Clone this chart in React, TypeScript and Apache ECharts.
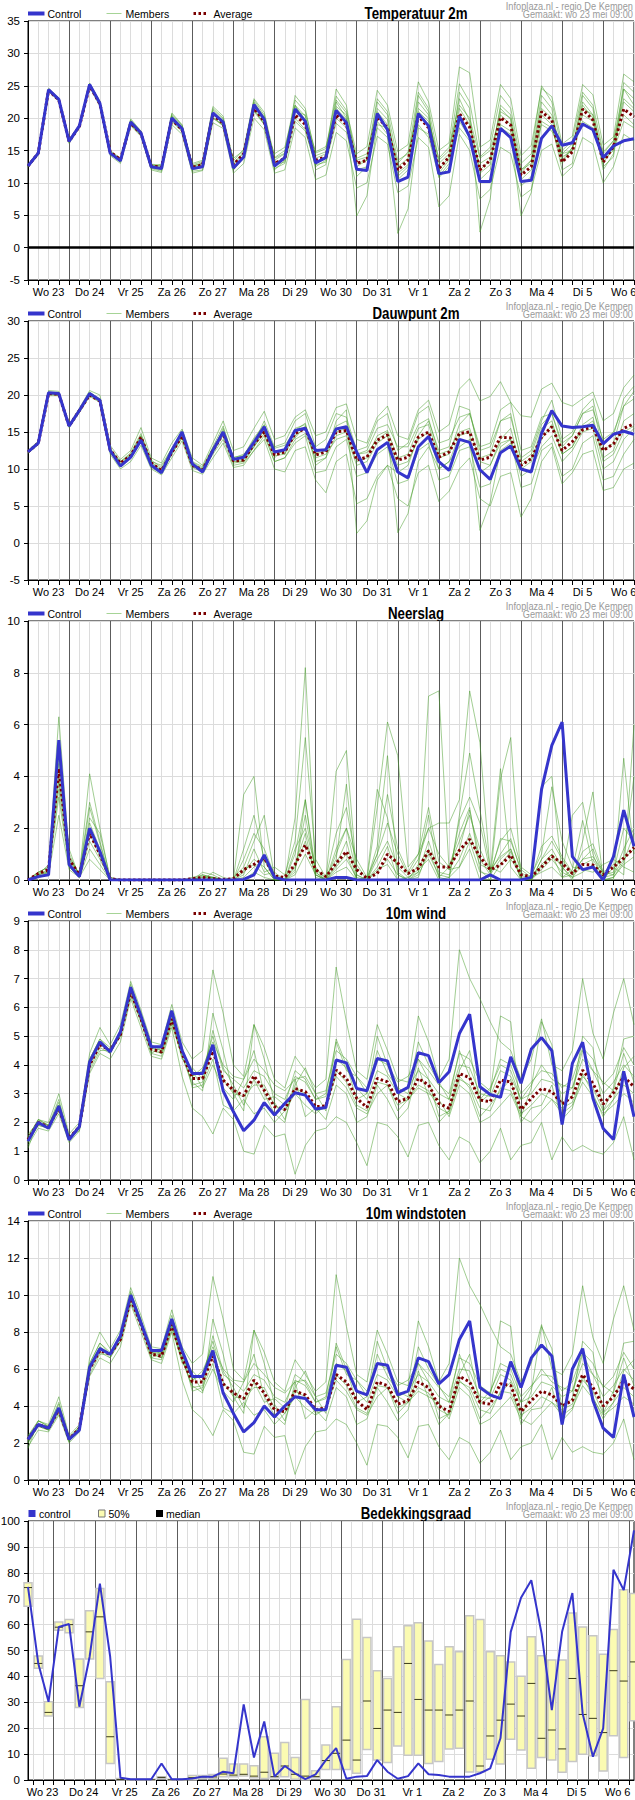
import { useEffect, useRef } from 'react';
import * as echarts from 'echarts';

// ---------- time axis (hours from Wo 23 00:00, 6-hourly) ----------
const HOURS = [0,6,12,18,24,30,36,42,48,54,60,66,72,78,84,90,96,102,108,114,120,126,132,138,144,150,156,162,168,174,180,186,192,198,204,210,216,222,228,234,240,246,252,258,264,270,276,282,288,294,300,306,312,318,324,330,336,342,348,354];
const DAY_LABELS = ['Wo 23','Do 24','Vr 25','Za 26','Zo 27','Ma 28','Di 29','Wo 30','Do 31','Vr 1','Za 2','Zo 3','Ma 4','Di 5','Wo 6'];
const TITLES = ['Temperatuur 2m','Dauwpunt 2m','Neerslag','10m wind','10m windstoten','Bedekkingsgraad'];
const LEGEND_LINES = ['Control','Members','Average'];
const LEGEND_CLOUD = ['control','50%','median'];
const CREDIT_1 = 'Infoplaza.nl - regio De Kempen';
const CREDIT_2 = 'Gemaakt: wo 23 mei 09:00';
const Y_MIN = [-5,-5,0,0,0,0];
const Y_MAX = [35,30,10,9,14,100];
const Y_STEP = [5,5,2,1,2,10];

// ---------- Temperatuur 2m ----------
const TEMP_CONTROL = [12.6,14.6,24.4,22.9,16.4,18.8,25.2,22.3,14.6,13.4,19.4,17.7,12.5,12.2,20.0,18.4,12.2,12.5,20.8,19.4,12.3,14.0,22.1,19.8,12.6,13.9,21.4,19.5,13.1,13.9,21.2,19.3,12.1,11.9,20.7,18.2,10.2,10.9,20.7,18.8,11.4,11.7,20.3,17.1,10.2,10.2,18.4,17.0,10.2,10.4,16.9,18.8,15.8,16.2,19.1,18.2,13.9,15.7,16.5,16.8];
const TEMP_AVERAGE = [12.6,14.6,24.3,22.8,16.4,18.7,25.0,22.2,14.8,13.6,19.2,17.6,12.6,12.4,19.8,18.2,12.4,12.8,20.5,19.2,12.8,14.5,21.5,19.5,13.0,13.8,20.5,19.0,13.5,14.0,20.5,19.0,13.0,13.5,20.2,18.5,12.0,13.5,20.3,18.5,12.2,14.0,20.7,18.6,12.0,13.5,20.1,18.9,11.2,12.5,21.0,19.7,13.2,14.8,21.4,19.7,13.2,15.6,21.4,20.2];
const TEMP_MEMBERS = [
  [12.8,14.8,24.6,23.1,16.6,19.0,25.4,22.6,15.0,13.8,19.9,18.0,12.9,12.7,20.6,18.9,12.8,13.3,21.8,20.3,13.4,15.2,23.0,20.9,13.9,15.0,22.8,21.0,14.6,15.3,23.4,21.2,14.5,15.6,24.3,22.0,14.8,15.9,25.6,22.5,15.0,16.2,27.9,27.0,15.5,16.6,25.2,23.0,14.2,15.8,24.6,23.3,16.0,17.2,25.2,23.6,15.8,17.1,26.8,25.6],
  [12.4,14.3,24.1,22.6,16.1,18.5,24.8,21.8,14.2,13.0,18.8,17.2,12.0,11.6,19.0,17.5,11.5,11.9,19.3,18.4,11.5,13.0,20.0,18.2,11.5,12.0,18.5,17.0,10.5,11.2,17.8,16.5,9.2,10.0,17.2,16.0,8.5,9.5,17.0,15.5,6.3,8.0,17.5,15.0,7.5,9.0,15.5,14.5,7.8,9.0,15.0,16.0,11.0,12.5,17.0,16.0,10.0,12.5,17.5,16.5],
  [12.6,14.5,24.3,22.8,16.3,18.7,25.1,22.2,14.7,13.5,19.5,17.8,12.7,12.5,20.3,18.4,12.3,12.6,20.5,19.5,12.8,14.6,22.5,20.2,12.0,13.5,21.0,20.5,12.0,12.8,22.5,20.0,4.9,8.0,19.0,18.5,11.5,12.8,21.5,20.0,13.0,14.5,23.0,19.5,11.5,12.8,22.0,20.5,12.0,13.0,22.5,20.5,14.5,15.0,23.5,21.5,12.5,14.0,24.5,22.0],
  [12.5,14.6,24.5,22.9,16.5,18.9,25.0,22.4,14.5,13.3,19.3,17.5,12.3,12.0,19.6,18.0,12.0,12.4,20.0,19.0,12.0,13.8,21.2,19.2,13.0,14.0,20.0,18.2,12.5,13.5,20.0,18.5,13.0,13.5,19.5,17.5,2.2,6.0,18.5,17.5,12.0,14.0,19.5,17.0,13.0,14.0,18.5,17.5,4.9,8.5,19.5,18.5,13.5,15.5,20.5,19.5,14.0,16.0,20.5,19.0],
  [12.7,14.7,24.2,22.7,16.4,18.6,25.3,22.1,14.9,13.6,19.0,17.4,12.5,12.9,19.9,18.5,13.0,13.5,20.2,18.8,13.8,15.0,21.0,19.0,14.5,15.5,21.8,19.8,14.8,15.6,21.5,19.8,13.8,14.5,21.0,19.0,13.0,14.8,21.0,19.5,13.8,15.5,22.0,20.0,13.8,15.0,20.5,19.0,11.5,13.5,23.5,21.5,13.0,15.5,22.5,20.5,14.5,16.5,23.0,21.5],
  [12.5,14.4,24.4,22.8,16.2,18.8,24.9,22.3,14.4,13.5,19.6,17.9,12.6,12.2,20.8,19.0,12.5,12.8,21.3,19.8,12.0,14.2,22.3,20.0,12.8,13.2,23.5,21.5,13.8,14.5,24.5,22.0,12.5,13.5,22.5,20.5,10.5,12.0,23.5,21.0,10.8,12.5,24.0,21.5,2.4,7.5,21.0,20.0,9.5,11.0,20.5,19.0,12.0,13.0,21.5,20.5,12.0,14.5,25.5,24.0],
  [12.6,14.6,24.5,22.9,16.4,18.8,25.2,22.2,14.6,13.4,19.3,17.6,12.4,12.3,20.2,18.6,12.6,13.0,21.0,19.2,12.6,13.8,21.8,19.6,13.5,14.5,22.0,20.3,13.2,14.0,21.8,20.5,11.0,12.5,21.5,19.8,12.5,13.8,22.5,20.5,11.5,13.5,21.5,19.0,12.0,13.5,21.5,19.8,10.5,12.0,21.5,20.0,14.0,15.0,22.0,20.0,13.0,15.5,22.5,21.0],
  [12.5,14.5,24.2,22.7,16.3,18.7,25.0,22.1,14.5,13.2,19.0,17.3,12.2,11.8,19.5,17.9,11.8,12.0,20.0,18.8,12.2,14.0,21.5,19.0,12.2,13.0,19.5,18.0,12.8,13.2,19.2,17.8,12.0,12.5,18.5,17.0,11.0,12.5,19.0,17.0,11.0,13.0,18.5,16.5,10.5,12.0,19.0,18.0,12.0,13.5,19.0,18.0,14.5,16.0,19.5,18.5,13.5,15.0,19.5,18.5],
  [12.7,14.7,24.4,23.0,16.5,18.9,25.3,22.5,14.8,13.7,19.7,17.9,12.8,12.6,20.4,18.8,12.6,13.1,21.5,20.0,13.0,14.8,22.8,20.5,13.8,14.6,22.0,19.5,14.2,14.8,22.8,20.8,13.5,14.0,23.0,21.0,13.5,14.5,24.0,21.5,13.5,15.0,25.3,22.5,14.0,15.5,23.5,21.5,13.0,14.5,25.0,22.5,15.0,16.5,24.0,22.0,14.8,16.5,24.5,23.0],
];

// ---------- Dauwpunt 2m ----------
const DEW_CONTROL = [12.3,13.5,20.3,20.2,15.8,17.9,20.2,19.3,12.5,10.4,11.6,13.9,10.5,9.5,12.5,15.0,10.7,9.6,12.5,15.0,11.3,11.6,13.6,15.7,12.3,12.6,15.2,15.5,12.5,12.6,15.4,15.7,12.3,9.5,12.6,13.6,9.6,8.8,13.0,14.4,11.0,9.8,14.0,13.6,9.9,8.6,12.2,13.1,10.0,9.6,14.8,17.9,15.8,15.6,15.7,15.9,13.4,14.7,15.1,14.7];
const DEW_AVERAGE = [12.3,13.5,20.2,20.1,15.8,17.9,20.0,19.2,12.6,10.8,11.8,14.3,10.8,9.8,12.2,14.5,10.5,9.9,12.5,14.8,11.1,11.2,13.4,15.0,11.9,12.3,14.8,15.5,11.9,12.3,15.0,15.2,11.2,11.6,13.9,14.6,11.2,11.6,14.3,15.0,11.6,12.3,14.8,15.0,11.2,11.6,14.3,14.2,10.5,11.4,14.3,15.7,12.5,13.7,15.3,15.7,12.5,13.4,15.5,16.1];
const DEW_MEMBERS = [
  [12.5,13.8,20.6,20.5,16.0,18.2,20.6,20.0,13.2,11.3,12.5,15.6,11.5,10.8,13.5,15.4,11.5,10.5,13.5,16.5,12.5,13.0,15.5,17.8,14.0,14.5,17.0,18.0,14.5,15.0,18.3,18.8,14.0,13.5,17.0,18.5,14.5,14.0,18.0,19.3,15.0,16.0,20.8,22.2,19.2,19.8,21.8,19.0,17.2,17.0,20.8,21.6,19.0,18.5,19.5,20.4,16.5,17.5,21.0,22.7],
  [12.1,13.3,19.9,19.9,15.6,17.6,19.8,19.0,12.0,10.0,11.0,13.2,10.0,9.2,11.5,13.8,9.8,9.3,11.5,13.5,10.2,10.5,12.5,14.0,10.0,9.6,12.5,13.0,8.5,6.8,11.0,12.0,5.3,6.0,9.0,10.5,6.0,5.0,9.5,10.5,5.6,7.0,10.0,11.5,6.0,5.0,9.0,9.5,3.5,6.0,11.0,13.0,8.0,9.5,12.0,12.5,7.1,7.5,10.0,10.8],
  [12.3,13.6,20.4,20.3,15.9,17.8,20.4,19.4,12.8,11.0,12.0,14.5,11.2,10.2,12.8,14.8,10.8,9.8,12.3,15.5,11.6,11.8,14.2,16.0,12.5,12.0,15.5,16.0,10.5,11.5,16.5,18.0,1.3,3.0,8.5,10.5,9.5,10.5,14.5,16.5,12.5,13.0,18.5,18.0,11.5,12.0,16.5,17.0,11.5,12.5,16.5,19.3,14.0,15.0,18.0,19.5,13.5,14.5,19.5,21.2],
  [12.2,13.4,20.1,20.0,15.7,17.9,20.1,19.1,12.4,10.6,11.5,14.0,10.5,9.6,12.0,14.2,10.3,10.0,12.8,14.8,11.0,11.0,13.0,15.3,11.5,12.8,14.2,15.8,12.0,12.5,15.0,15.5,12.0,12.2,14.0,15.0,1.4,4.0,11.0,13.0,10.0,11.0,14.5,15.0,1.7,5.5,12.5,13.5,10.5,11.5,14.0,16.0,12.0,13.0,15.5,16.5,11.0,12.0,15.0,15.8],
  [12.4,13.5,20.3,20.2,15.8,18.0,20.3,19.5,12.6,11.0,12.2,14.8,11.0,10.5,12.8,15.0,11.0,10.3,13.0,15.8,11.5,12.0,13.5,16.5,13.0,13.5,16.5,17.5,13.0,14.0,17.5,17.0,12.5,13.0,16.5,17.5,12.5,13.5,17.5,18.5,13.5,14.0,17.0,17.5,13.0,13.5,18.0,19.0,12.5,13.0,17.0,17.5,13.5,14.5,17.5,18.0,14.0,15.0,18.5,19.5],
  [12.2,13.4,20.2,20.0,15.7,17.7,19.9,19.2,12.3,10.5,11.4,13.8,10.2,9.4,12.0,14.3,10.2,9.6,12.0,14.0,10.5,10.8,12.5,14.5,11.0,11.5,13.5,14.5,9.5,9.8,13.0,14.0,9.0,9.5,12.0,13.0,8.0,8.5,12.5,13.5,8.5,9.0,12.5,13.0,7.5,8.0,13.0,14.0,7.5,8.0,12.5,13.5,9.0,10.0,13.5,14.5,8.5,9.0,12.0,14.0],
  [12.3,13.5,20.3,20.2,15.8,17.9,20.2,19.2,12.5,10.6,11.8,14.2,10.8,9.8,12.4,14.6,10.6,10.0,12.6,15.0,11.0,11.3,13.2,15.3,11.8,12.0,14.5,15.5,12.2,12.8,15.8,16.5,12.0,12.5,15.5,16.0,13.0,13.0,16.0,16.8,12.0,12.5,15.0,15.5,11.0,10.5,14.0,15.5,10.0,11.0,15.5,16.5,12.0,13.0,16.0,17.0,11.5,12.5,16.5,17.5],
  [12.4,13.6,20.2,20.1,15.9,17.8,20.0,19.3,12.7,10.9,11.9,14.5,10.9,10.0,12.5,15.2,10.9,10.1,12.8,15.2,11.3,11.8,14.0,15.9,12.8,13.2,15.2,16.2,11.0,11.5,14.5,15.0,11.0,11.5,14.5,15.2,11.5,12.0,15.5,16.0,11.5,12.0,16.0,17.5,12.5,13.0,16.5,17.5,11.0,12.0,16.0,17.5,13.0,14.5,17.5,18.5,12.5,13.5,18.5,20.5],
  [12.2,13.5,20.2,20.2,15.8,17.9,20.1,19.2,12.5,10.7,11.7,14.0,10.6,9.7,12.2,14.4,10.4,9.8,12.2,14.5,10.8,11.0,13.0,14.8,11.0,11.5,14.0,14.8,11.5,12.0,14.0,14.5,10.5,11.0,13.5,14.5,10.5,11.0,14.0,15.0,10.0,11.0,13.0,14.0,9.5,10.5,13.5,14.0,9.0,10.0,13.0,14.5,11.0,12.5,15.0,15.5,10.0,11.0,14.0,15.5],
];

// ---------- Neerslag ----------
const RAIN_CONTROL = [0,0.13,0.2,5.4,0.6,0.13,2.0,1.1,0,0,0,0,0,0,0,0,0,0,0,0,0,0.02,0.2,0.97,0.1,0,0,0,0,0,0.1,0.1,0,0,0,0,0,0,0,0,0,0,0,0,0,0.2,0,0,0,0.1,3.5,5.2,6.1,0.9,0.4,0.5,0,0.9,2.7,1.3];
const RAIN_AVERAGE = [0,0.25,0.4,4.3,0.8,0.2,1.8,1.0,0.05,0,0,0,0,0,0,0,0.05,0.1,0.05,0.02,0.05,0.4,0.6,0.85,0.15,0.1,0.6,1.35,0.4,0.13,0.65,1.1,0.4,0.06,0.25,1.0,0.65,0.25,0.45,1.13,0.5,0.5,1.15,1.57,0.9,0.4,0.58,0.96,0.2,0.13,0.5,0.92,0.65,0.25,0.6,0.58,0.2,0.5,0.84,1.25];
const RAIN_MEMBERS = [
  [0,0.3,0.5,6.3,1.0,0.2,4.1,2.0,0,0,0,0,0,0,0,0,0,0.2,0.1,0,0,3.3,4.0,0.5,0,0,2.4,8.2,0.3,0,4.2,5.0,0.2,0,0.5,1.3,0,0,0.3,7.1,7.3,0.4,0.5,1.2,0,0,3.9,5.5,0,0,0.8,1.2,0.5,0,1.5,3.4,0,0,4.7,1.0],
  [0,0.1,0.3,3.2,0.5,0.1,1.5,0.8,0,0,0,0,0,0,0,0,0,0,0.3,0.1,0,0.2,1.2,0.3,0.5,0.2,1.5,5.5,0.8,0.1,0.8,3.7,0,0,2.8,6.1,4.8,0.5,1.0,2.0,2.2,2.2,3.1,7.3,5.3,0.3,1.5,2.0,0.5,0.2,1.0,3.6,1.5,0.5,0.4,0.3,0.6,0.8,0.5,0.3],
  [0,0.2,0.4,4.5,0.7,0.3,3.0,1.5,0,0,0,0,0,0,0,0,0,0.3,0.2,0,0.1,0.5,1.5,2.5,0.1,0,0.3,3.1,0.2,0,0.6,1.5,0,0.1,3.5,2.4,0.2,0,0.6,2.5,0.1,0,2.5,4.9,2.7,0.5,0.3,0.8,0.2,0,3.6,4.0,0.2,2.5,3.0,1.0,0,0.5,0.2,6.0],
  [0,0.1,0.2,2.5,0.4,0.1,0.8,0.4,0,0,0,0,0,0,0,0,0,0,0,0,0,0,0.3,0.1,0,0,0.6,1.8,0.1,0,0.3,0.5,0,0,0.4,0.6,0,0.1,0.4,0.8,0,0.1,2.3,3.2,2.2,0.3,4.3,0.5,0,0.1,0.3,0.5,0.1,0.4,2.3,0.6,0,0.1,0.7,1.8],
  [0,0.2,0.6,3.8,0.9,0.2,2.4,1.8,0.1,0,0,0,0,0,0,0,0,0.1,0.05,0,0,1.2,2.5,0.8,0,0,1.0,3.1,0.4,0.1,1.8,2.8,0.6,0,1.0,3.3,1.2,0.3,1.0,2.8,0.7,0.4,1.2,2.7,0.8,0.2,1.6,1.5,0.4,0.1,1.3,1.7,0.9,0.3,0.8,1.2,0.2,0.3,2.0,1.5],
  [0,0.3,0.3,4.8,1.2,0.1,1.2,0.6,0,0,0,0,0,0,0,0,0.1,0.2,0.1,0,0,0.4,0.6,0.2,0.3,0,0.2,1.0,0.2,0,0.4,0.8,0.1,0,1.3,4.8,0.3,0,0.1,1.2,0.1,0.5,1.8,2.8,0.4,0,0.6,1.1,0,0.2,0.5,1.0,0.1,0.2,1.1,1.4,0.3,0.6,0.9,4.0],
  [0,0.2,0.3,4.0,0.9,0.2,2.2,1.2,0,0,0,0,0,0,0,0,0,0.15,0.1,0,0,0.8,1.8,1.2,0.2,0,1.2,2.0,0.5,0,1.2,2.0,0.8,0.1,1.0,2.2,1.0,0.2,0.8,2.0,1.0,0.5,1.5,2.5,1.2,0.3,1.0,1.6,0.3,0,0.8,1.5,0.8,0.2,0.8,0.9,0.3,0.2,1.2,2.0],
  [0,0.3,0.5,5.0,0.8,0.2,1.8,0.9,0.1,0,0,0,0,0,0,0,0,0.1,0.1,0,0,0.3,0.8,0.5,0,0,0.5,1.5,0.2,0,0.5,1.0,0,0,0.8,1.5,0.5,0.1,0.3,1.5,0.3,0.2,0.8,1.8,0.6,0.4,0.9,1.2,0.1,0,0.6,1.0,0.5,0.1,0.6,0.8,0.1,0.2,0.8,1.2],
  [0,0.2,0.3,3.5,0.6,0.2,2.8,1.4,0,0,0,0,0,0,0,0,0,0,0.1,0,0,0.1,0.5,0.8,0.1,0,0.4,2.5,0.3,0,1.0,2.0,0.2,0,0.3,0.8,0.2,0,0.2,1.0,0.2,0.1,0.5,1.5,0.3,0.2,0.8,1.2,0,0,0.4,0.8,0.3,0.1,0.3,0.6,0,0.1,0.6,0.9],
];

// ---------- 10m wind ----------
const WIND_CONTROL = [1.35,2.0,1.8,2.57,1.4,1.85,4.1,4.8,4.45,5.15,6.7,5.7,4.63,4.63,5.88,4.5,3.7,3.7,4.7,3.1,2.37,1.71,2.08,2.69,2.26,2.66,3.03,2.95,2.47,2.52,4.17,4.07,3.18,3.1,4.22,4.14,3.03,3.22,4.42,4.32,3.38,3.76,5.09,5.76,3.24,2.97,2.87,4.28,3.36,4.55,4.95,4.49,1.93,4.05,4.79,2.84,1.79,1.41,3.78,2.2];
const WIND_AVERAGE = [1.4,2.0,1.85,2.5,1.45,1.85,4.0,4.7,4.5,5.05,6.55,5.6,4.55,4.45,5.6,4.4,3.53,3.53,4.48,3.47,3.12,2.93,3.62,3.12,2.55,2.45,3.18,3.07,2.55,2.57,3.82,3.53,2.84,2.52,3.53,3.41,2.72,2.84,3.53,3.3,2.66,2.49,3.7,3.55,2.78,2.72,3.47,3.41,2.45,2.84,3.18,3.07,2.64,2.89,3.82,3.36,2.64,3.03,3.59,3.24];
const WIND_MEMBERS = [
  [1.5,2.1,2.0,3.0,1.6,2.0,4.4,5.3,4.7,5.4,6.9,5.9,4.8,4.7,6.1,4.8,4.2,4.5,7.3,5.8,4.0,3.6,5.4,4.6,3.5,3.2,4.3,3.8,3.2,3.5,7.4,5.5,3.8,3.5,5.4,4.5,3.5,3.4,5.7,4.8,3.5,4.2,8.0,7.0,6.3,5.5,4.8,4.5,3.5,4.2,5.6,4.0,3.8,4.5,7.0,5.1,4.2,5.8,7.0,5.4],
  [1.2,1.8,1.7,2.3,1.3,1.7,3.7,4.4,4.2,4.8,6.3,5.3,4.3,4.2,5.3,3.6,2.5,2.2,1.6,2.5,2.1,1.0,0.9,1.9,1.5,1.6,0.2,1.2,1.7,1.8,2.2,2.0,1.3,0.5,2.0,1.9,1.5,0.8,1.9,2.0,1.2,0.7,1.5,1.3,0.6,1.0,1.8,0.7,1.2,1.3,2.0,0.7,1.5,1.0,1.2,1.0,0.9,1.3,2.2,0.7],
  [1.3,2.0,1.9,2.8,1.5,1.9,4.2,4.9,4.5,5.1,6.8,5.7,4.6,4.6,5.7,4.3,3.4,3.1,5.8,4.5,3.0,2.4,5.4,4.2,2.7,2.1,3.3,3.9,3.0,2.4,4.9,4.0,2.8,3.0,5.0,4.0,3.0,2.8,4.2,3.5,2.2,2.4,3.8,4.5,2.7,3.0,5.7,5.5,2.2,3.2,5.5,4.7,2.6,2.9,5.0,4.6,2.4,3.2,4.9,5.0],
  [1.4,1.9,1.8,2.6,1.4,1.8,3.9,4.6,4.4,5.0,6.5,5.5,4.5,4.4,5.5,4.4,3.8,3.2,4.0,3.2,2.8,3.5,4.5,3.0,2.3,2.0,3.5,2.2,2.5,2.1,3.3,3.0,2.0,2.2,3.3,2.8,2.1,2.5,3.9,2.9,2.0,2.4,3.6,3.2,2.2,2.6,3.1,3.5,2.0,2.5,2.6,3.3,2.1,2.5,3.7,3.0,2.2,2.8,3.9,4.3],
  [1.1,2.1,1.9,2.7,1.5,1.7,4.0,4.7,4.5,5.2,6.6,5.6,4.7,4.5,5.6,4.2,3.9,3.5,5.2,3.9,3.3,2.6,3.5,2.8,2.9,2.6,3.8,3.5,2.8,3.0,4.8,3.8,3.6,3.0,4.5,3.7,3.2,3.0,4.8,4.0,3.4,2.8,4.5,3.6,2.8,3.2,4.0,3.8,2.8,3.3,4.0,3.5,3.3,3.2,4.5,3.8,3.4,3.1,4.4,3.4],
  [1.6,2.0,1.8,2.4,1.4,1.9,4.1,4.8,4.4,5.1,6.7,5.8,4.4,4.6,5.9,4.6,3.2,3.3,4.2,2.6,2.4,2.8,2.3,2.5,2.0,2.4,3.0,2.6,2.3,2.6,3.6,3.2,2.5,2.3,3.0,3.3,2.4,2.8,3.2,3.0,2.8,2.2,3.3,3.0,2.0,2.2,2.6,3.0,2.2,2.0,2.4,2.8,2.3,2.6,3.4,2.9,2.3,2.6,3.0,2.7],
  [1.4,2.0,1.8,2.5,1.4,1.9,4.0,4.8,4.5,5.0,6.6,5.7,4.6,4.5,5.8,4.5,3.6,3.8,5.0,3.8,3.5,3.2,3.8,3.6,3.0,2.8,3.6,3.4,2.8,2.9,4.2,3.9,3.2,2.8,3.8,3.6,3.0,3.2,3.8,3.5,3.0,2.8,4.0,3.9,3.0,2.9,3.8,3.6,2.8,3.0,3.5,3.4,3.0,3.2,4.2,3.8,3.0,3.4,4.0,3.6],
  [1.3,1.9,1.8,2.5,1.5,1.8,3.8,4.5,4.5,5.0,6.4,5.5,4.4,4.3,5.4,4.3,3.3,3.4,4.6,3.5,3.0,2.9,3.3,3.3,2.6,2.4,3.2,3.0,2.4,2.5,3.8,3.4,2.6,2.4,3.4,3.3,2.6,2.8,3.3,3.1,2.5,2.3,3.5,3.3,2.5,2.4,3.2,3.1,2.3,2.6,3.0,2.8,2.5,2.7,3.6,3.2,2.4,2.8,3.3,3.0],
  [1.5,2.1,1.9,2.6,1.4,1.9,4.2,4.9,4.6,5.1,6.6,5.6,4.6,4.4,5.6,4.6,3.6,3.9,4.8,4.0,3.6,3.5,4.2,3.8,3.3,3.1,3.5,3.6,3.0,3.1,4.5,4.2,3.6,3.2,4.2,4.0,3.4,3.6,4.2,3.8,3.3,3.0,4.4,4.2,3.4,3.1,4.2,4.0,3.0,3.4,3.8,3.7,3.2,3.5,4.6,4.2,3.3,3.7,4.6,4.0],
];

// ---------- 10m windstoten ----------
const GUST_CONTROL = [2.2,3.0,2.8,3.9,2.2,2.7,6.1,7.1,6.8,7.8,10.0,8.5,7.0,7.0,8.7,7.0,5.6,5.6,7.0,4.7,3.6,2.6,3.1,4.0,3.4,4.0,4.5,4.4,3.8,3.8,6.2,6.1,4.8,4.6,6.3,6.2,4.6,4.8,6.6,6.4,5.2,5.7,7.6,8.6,5.0,4.6,4.4,6.4,5.0,6.6,7.3,6.7,3.0,6.0,7.1,4.3,2.8,2.3,5.7,3.4];
const GUST_AVERAGE = [2.2,3.0,2.8,3.8,2.2,2.8,6.0,7.0,6.8,7.6,9.8,8.4,6.8,6.7,8.4,6.6,5.3,5.3,6.7,5.2,4.7,4.4,5.4,4.7,3.8,3.7,4.8,4.6,3.8,3.9,5.7,5.3,4.3,3.8,5.3,5.1,4.1,4.3,5.3,5.0,4.0,3.7,5.6,5.3,4.2,4.1,5.2,5.1,3.7,4.3,4.8,4.6,4.0,4.3,5.7,5.0,4.0,4.5,5.4,4.9];
const GUST_MEMBERS = [
  [2.4,3.2,3.0,4.5,2.4,3.0,6.6,8.0,7.1,8.1,10.4,8.9,7.2,7.1,9.2,7.2,6.3,6.8,11.0,8.7,6.0,5.4,8.1,6.9,5.3,4.8,6.5,5.7,4.8,5.3,11.1,8.3,5.7,5.3,8.1,6.8,5.3,5.1,8.6,7.2,5.3,6.3,12.0,10.5,9.5,8.3,7.2,6.8,5.3,6.3,8.4,6.0,5.7,6.8,10.5,7.7,6.3,8.7,10.5,8.1],
  [1.8,2.7,2.6,3.5,2.0,2.6,5.6,6.6,6.3,7.2,9.5,8.0,6.5,6.3,8.0,5.4,3.8,3.3,2.4,3.8,3.2,1.5,1.4,2.9,2.3,2.4,0.3,1.8,2.6,2.7,3.3,3.0,2.0,0.8,3.0,2.9,2.3,1.2,2.9,3.0,1.8,1.1,2.3,2.0,0.9,1.5,2.7,1.1,1.8,2.0,3.0,1.1,2.3,1.5,1.8,1.5,1.4,2.0,3.3,1.1],
  [2.0,3.0,2.9,4.2,2.3,2.9,6.3,7.4,6.8,7.7,10.2,8.6,6.9,6.9,8.6,6.5,5.1,4.7,8.7,6.8,4.5,3.6,8.1,6.3,4.1,3.2,5.0,5.9,4.5,3.6,7.4,6.0,4.2,4.5,7.5,6.0,4.5,4.2,6.3,5.3,3.3,3.6,5.7,6.8,4.1,4.5,8.6,8.3,3.3,4.8,8.3,7.1,3.9,4.4,7.5,6.9,3.6,4.8,7.4,7.5],
  [2.1,2.9,2.7,3.9,2.1,2.7,5.9,6.9,6.6,7.5,9.8,8.3,6.8,6.6,8.3,6.6,5.7,4.8,6.0,4.8,4.2,5.3,6.8,4.5,3.5,3.0,5.3,3.3,3.8,3.2,5.0,4.5,3.0,3.3,5.0,4.2,3.2,3.8,5.9,4.4,3.0,3.6,5.4,4.8,3.3,3.9,4.7,5.3,3.0,3.8,3.9,5.0,3.2,3.8,5.6,4.5,3.3,4.2,5.9,6.5],
  [1.7,3.2,2.9,4.1,2.3,2.6,6.0,7.1,6.8,7.8,9.9,8.4,7.1,6.8,8.4,6.3,5.9,5.3,7.8,5.9,5.0,3.9,5.3,4.2,4.4,3.9,5.7,5.3,4.2,4.5,7.2,5.7,5.4,4.5,6.8,5.6,4.8,4.5,7.2,6.0,5.1,4.2,6.8,5.4,4.2,4.8,6.0,5.7,4.2,5.0,6.0,5.3,5.0,4.8,6.8,5.7,5.1,4.7,6.6,5.1],
  [2.4,3.0,2.7,3.6,2.1,2.9,6.2,7.2,6.6,7.7,10.1,8.7,6.6,6.9,8.9,6.9,4.8,5.0,6.3,3.9,3.6,4.2,3.5,3.8,3.0,3.6,4.5,3.9,3.5,3.9,5.4,4.8,3.8,3.5,4.5,5.0,3.6,4.2,4.8,4.5,4.2,3.3,5.0,4.5,3.0,3.3,3.9,4.5,3.3,3.0,3.6,4.2,3.5,3.9,5.1,4.4,3.5,3.9,4.5,4.1],
  [2.1,3.0,2.7,3.8,2.1,2.8,6.0,7.2,6.8,7.5,9.9,8.6,6.9,6.8,8.7,6.8,5.4,5.7,7.5,5.7,5.3,4.8,5.7,5.4,4.5,4.2,5.4,5.1,4.2,4.4,6.3,5.9,4.8,4.2,5.7,5.4,4.5,4.8,5.7,5.3,4.5,4.2,6.0,5.9,4.5,4.4,5.7,5.4,4.2,4.5,5.3,5.1,4.5,4.8,6.3,5.7,4.5,5.1,6.0,5.4],
  [2.0,2.9,2.7,3.8,2.3,2.7,5.7,6.8,6.8,7.5,9.6,8.3,6.6,6.5,8.1,6.5,5.0,5.1,6.9,5.3,4.5,4.4,5.0,5.0,3.9,3.6,4.8,4.5,3.6,3.8,5.7,5.1,3.9,3.6,5.1,5.0,3.9,4.2,5.0,4.7,3.8,3.5,5.3,5.0,3.8,3.6,4.8,4.7,3.5,3.9,4.5,4.2,3.8,4.1,5.4,4.8,3.6,4.2,5.0,4.5],
  [2.3,3.2,2.9,3.9,2.1,2.9,6.3,7.4,6.9,7.7,9.9,8.4,6.9,6.6,8.4,6.9,5.4,5.9,7.2,6.0,5.4,5.3,6.3,5.7,5.0,4.7,5.3,5.4,4.5,4.7,6.8,6.3,5.4,4.8,6.3,6.0,5.1,5.4,6.3,5.7,5.0,4.5,6.6,6.3,5.1,4.7,6.3,6.0,4.5,5.1,5.7,5.6,4.8,5.3,6.9,6.3,5.0,5.6,6.9,6.0],
];

// ---------- Bedekkingsgraad ----------
const CLOUD_CONTROL = [74.6,45,30.2,59.1,60.2,28.3,47.6,75.8,47.6,0.9,0.3,0.3,0.3,6.4,0.3,0.3,0.6,1.3,1.3,3.2,2.6,29.2,8.7,22.6,1.3,5.4,2.6,0.3,2.2,7.7,12.3,0.5,1.3,1.5,7.7,3.2,0.5,1.5,6.4,2.2,1.9,1.3,1.3,1.3,2.6,4.5,16.1,57.2,70.4,77.1,56.6,27.0,57.2,72.2,25.7,9.0,19.9,81.2,73.3,96.4];
const CLOUD_P25 = [67.1,43.1,24.7,57.8,56.9,28,46.7,39.2,6.4,0,0,0,0,0.6,0,0,0,0.6,0.6,1.3,1.3,1.5,0.9,0.6,0.9,1.3,0.3,0,0.9,4.1,4.1,4.1,2.6,11.8,7.7,6.8,13.1,9.6,9.6,6.4,7.1,12,12.3,3.1,3.1,8,6.2,15.7,11.6,4.5,8.7,7.7,3,7.1,9.9,9.4,3.5,17.1,8.7,22.9];
const CLOUD_P75 = [76.2,47.9,30.2,61,62,46.7,65.3,73.9,37.9,0.6,0.3,0.3,0.3,1.3,0.3,0.3,1.7,1.7,2.1,8.4,6.2,6.2,5.5,16.7,10.3,14.5,8.7,31.1,3.6,13.5,28.3,46.5,62.1,55,42.2,39.2,51.4,59.6,60.7,53.7,44.6,51.4,49.5,63.4,62,49.5,48,45.6,40.1,55.3,48,46.3,46.3,64.5,59.1,55.7,48.6,58.1,73.5,72];
const CLOUD_MEDIAN = [74.3,45,26.1,59,60,36.4,57.2,63,16.7,0.2,0.1,0.1,0.1,1.0,0.1,0.1,0.9,1.2,1.2,2.3,1.9,2.2,1.5,3.0,1.3,5.4,2.2,1.5,1.3,7.5,10.3,15.4,7.7,30.5,19.9,27,26.1,45,31.1,27,27,25.1,27,30.5,5.4,17,23.1,29.3,24.7,37.3,16.1,19.3,12,39.2,25.3,23.8,18.3,42.2,38.2,45.6];

const LINE_PANELS = [
  { control: TEMP_CONTROL, average: TEMP_AVERAGE, members: TEMP_MEMBERS, zero: true },
  { control: DEW_CONTROL, average: DEW_AVERAGE, members: DEW_MEMBERS, zero: false },
  { control: RAIN_CONTROL, average: RAIN_AVERAGE, members: RAIN_MEMBERS, zero: false },
  { control: WIND_CONTROL, average: WIND_AVERAGE, members: WIND_MEMBERS, zero: false },
  { control: GUST_CONTROL, average: GUST_AVERAGE, members: GUST_MEMBERS, zero: false },
];

// ---------- layout / style ----------
const CHART_W = 635;
const CHART_H = 1800;
const PANEL_H = 300;
const PLOT_LEFT = 28;
const PLOT_TOP = 21;
const PLOT_W = 606;
const PLOT_H = 259;
const X_MAX = 354;
const SANS = '"Liberation Sans", Arial, sans-serif';
const BLUE = '#3535cc';
const MEMBER = 'rgba(70,158,40,0.5)';
const AVG = '#7a0000';
const LIGHT = '#dcdcdc';
const DARK = '#5c5c5c';

function steps(start: number, end: number, step: number) {
  const out: number[] = [];
  for (let v = start; v <= end + 1e-9; v += step) out.push(v);
  return out;
}

function txt(x: number, y: number, text: string, font: string, fill: string, align: string, vAlign = 'middle', scaleX = 1) {
  return {
    type: 'text', x, y, scaleX, silent: true,
    style: { text, font, fill, textAlign: align, textVerticalAlign: vAlign, align, verticalAlign: vAlign },
  };
}

function buildOption() {
  const grid: any[] = [];
  const xAxis: any[] = [];
  const yAxis: any[] = [];
  const series: any[] = [];
  const elements: any[] = [];

  for (let i = 0; i < 6; i++) {
    const base = i * PANEL_H;
    const isCloud = i === 5;
    grid.push({
      left: PLOT_LEFT, top: base + PLOT_TOP, width: PLOT_W, height: PLOT_H,
      show: true, borderColor: '#000', borderWidth: 1, backgroundColor: 'rgba(0,0,0,0)',
      containLabel: false, outerBoundsMode: 'none',
    });
    const lightAt = isCloud ? steps(3, 351, 6) : steps(0, X_MAX, 6);
    const darkAt = isCloud ? steps(15, 351, 24) : steps(24, 336, 24);
    const labelOffset = isCloud ? 8.5 : 12;
    const labelAt = DAY_LABELS.map((_, k) => labelOffset + 24 * k);
    xAxis.push({
      type: 'value', gridIndex: i, min: 0, max: X_MAX, interval: 6, position: 'bottom',
      axisLine: { show: true, onZero: false, lineStyle: { color: '#000', width: 1 } },
      axisTick: { show: true, length: 5, inside: false, customValues: lightAt, lineStyle: { color: '#000', width: 1 } },
      axisLabel: {
        show: true, customValues: labelAt, margin: 6, color: '#000', fontSize: 11, fontFamily: SANS,
        formatter: (v: number) => DAY_LABELS[Math.round((v - labelOffset) / 24)] ?? '',
      },
      splitLine: { show: true, lineStyle: { color: LIGHT, width: 1 } },
    });
    xAxis.push({
      type: 'value', gridIndex: i, min: 0, max: X_MAX, interval: 24, position: 'bottom',
      axisLine: { show: false, onZero: false },
      axisTick: { show: false, customValues: darkAt },
      axisLabel: { show: false },
      splitLine: { show: true, lineStyle: { color: DARK, width: 1 } },
    });
    yAxis.push({
      type: 'value', gridIndex: i, min: Y_MIN[i], max: Y_MAX[i], interval: Y_STEP[i],
      axisLine: { show: true, onZero: false, lineStyle: { color: '#000', width: 1 } },
      axisTick: { show: true, length: 4, lineStyle: { color: '#000' } },
      axisLabel: { margin: 8, color: '#000', fontSize: 11.5, fontFamily: SANS },
      splitLine: { show: true, lineStyle: { color: LIGHT, width: 1 } },
    });

    // credits + title
    elements.push(txt(633, base + 0.5, CREDIT_1, `10.5px ${SANS}`, '#9a9a9a', 'right', 'top', 0.88));
    elements.push(txt(633, base + 14, CREDIT_2, `10.5px ${SANS}`, '#9a9a9a', 'right', 'middle', 0.88));
    elements.push(txt(416, base + 13.5, TITLES[i], `bold 16px ${SANS}`, '#000', 'center', 'middle', 0.83));

    const ly = base + 13.5;
    if (!isCloud) {
      elements.push({ type: 'line', silent: true, shape: { x1: 28, y1: ly, x2: 44.5, y2: ly }, style: { stroke: BLUE, lineWidth: 4 } });
      elements.push(txt(47.5, ly, LEGEND_LINES[0], `10.5px ${SANS}`, '#000', 'left'));
      elements.push({ type: 'line', silent: true, shape: { x1: 106.5, y1: ly, x2: 121.5, y2: ly }, style: { stroke: '#a6d496', lineWidth: 1 } });
      elements.push(txt(125.5, ly, LEGEND_LINES[1], `10.5px ${SANS}`, '#000', 'left'));
      elements.push({ type: 'line', silent: true, shape: { x1: 193.5, y1: ly, x2: 208.5, y2: ly }, style: { stroke: AVG, lineWidth: 3, lineDash: [2.5, 2.5] } });
      elements.push(txt(213.5, ly, LEGEND_LINES[2], `10.5px ${SANS}`, '#000', 'left'));

      const p = LINE_PANELS[i];
      p.members.forEach((m, j) => {
        const s: any = {
          type: 'line', name: 'Members', xAxisIndex: 2 * i, yAxisIndex: i,
          data: HOURS.map((h, k) => [h, m[k]]), showSymbol: false, symbol: 'none', silent: true,
          lineStyle: { color: MEMBER, width: 1 }, z: 3,
        };
        if (j === 0 && p.zero) {
          s.markLine = {
            silent: true, symbol: ['none', 'none'], label: { show: false }, animation: false,
            lineStyle: { color: '#000', width: 2.5, type: 'solid' }, data: [{ yAxis: 0 }],
          };
        }
        series.push(s);
      });
      series.push({
        type: 'line', name: 'Average', xAxisIndex: 2 * i, yAxisIndex: i,
        data: HOURS.map((h, k) => [h, p.average[k]]), showSymbol: false, symbol: 'none', silent: true,
        lineStyle: { color: AVG, width: 3, type: [2.5, 2.5] }, z: 4,
      });
      series.push({
        type: 'line', name: 'Control', xAxisIndex: 2 * i, yAxisIndex: i,
        data: HOURS.map((h, k) => [h, p.control[k]]), showSymbol: false, symbol: 'none', silent: true,
        lineStyle: { color: BLUE, width: 3 }, z: 5,
      });
    } else {
      elements.push({ type: 'rect', silent: true, shape: { x: 28.5, y: ly - 3.5, width: 7, height: 7 }, style: { fill: BLUE } });
      elements.push(txt(39, ly, LEGEND_CLOUD[0], `10.5px ${SANS}`, '#000', 'left'));
      elements.push({ type: 'rect', silent: true, shape: { x: 98.5, y: ly - 3.5, width: 6.5, height: 7 }, style: { fill: '#fbfbb2', stroke: '#777', lineWidth: 1 } });
      elements.push(txt(108.5, ly, LEGEND_CLOUD[1], `10.5px ${SANS}`, '#000', 'left'));
      elements.push({ type: 'rect', silent: true, shape: { x: 156, y: ly - 3.5, width: 7, height: 7 }, style: { fill: '#000' } });
      elements.push(txt(166, ly, LEGEND_CLOUD[2], `10.5px ${SANS}`, '#000', 'left'));

      series.push({
        type: 'custom', name: '50%', xAxisIndex: 2 * i, yAxisIndex: i, silent: true, clip: false, z: 3,
        data: HOURS.map((h, k) => [h, CLOUD_P25[k], CLOUD_P75[k], CLOUD_MEDIAN[k]]),
        encode: { x: 0, y: [1, 2, 3] },
        renderItem: (_params: any, api: any) => {
          const x = api.value(0);
          const lo = api.coord([x, api.value(1)]);
          const hi = api.coord([x, api.value(2)]);
          const md = api.coord([x, api.value(3)]);
          const w = 8;
          return {
            type: 'group',
            children: [
              {
                type: 'rect',
                shape: { x: hi[0] - w / 2, y: hi[1], width: w, height: Math.max(lo[1] - hi[1], 1) },
                style: { fill: '#fbfbb2', stroke: '#c6c6c6', lineWidth: 1.5 },
              },
              {
                type: 'line',
                shape: { x1: md[0] - w / 2, y1: md[1], x2: md[0] + w / 2, y2: md[1] },
                style: { stroke: '#3a3a1a', lineWidth: 1 },
              },
            ],
          };
        },
      });
      series.push({
        type: 'line', name: 'control', xAxisIndex: 2 * i, yAxisIndex: i,
        data: HOURS.map((h, k) => [h, CLOUD_CONTROL[k]]), showSymbol: false, symbol: 'none', silent: true,
        lineStyle: { color: BLUE, width: 2 }, z: 5,
      });
    }
  }

  return {
    animation: false,
    backgroundColor: '#fff',
    textStyle: { fontFamily: SANS },
    grid, xAxis, yAxis, series,
    graphic: { elements },
  };
}

export default function App() {
  const ref = useRef<HTMLDivElement>(null);
  useEffect(() => {
    document.body.style.margin = '0';
    if (!ref.current) return;
    const chart = echarts.init(ref.current, undefined, { renderer: 'svg', width: CHART_W, height: CHART_H });
    chart.setOption(buildOption() as any);
    return () => chart.dispose();
  }, []);
  return <div ref={ref} style={{ position: 'absolute', left: 0, top: 0, width: CHART_W, height: CHART_H }} />;
}
